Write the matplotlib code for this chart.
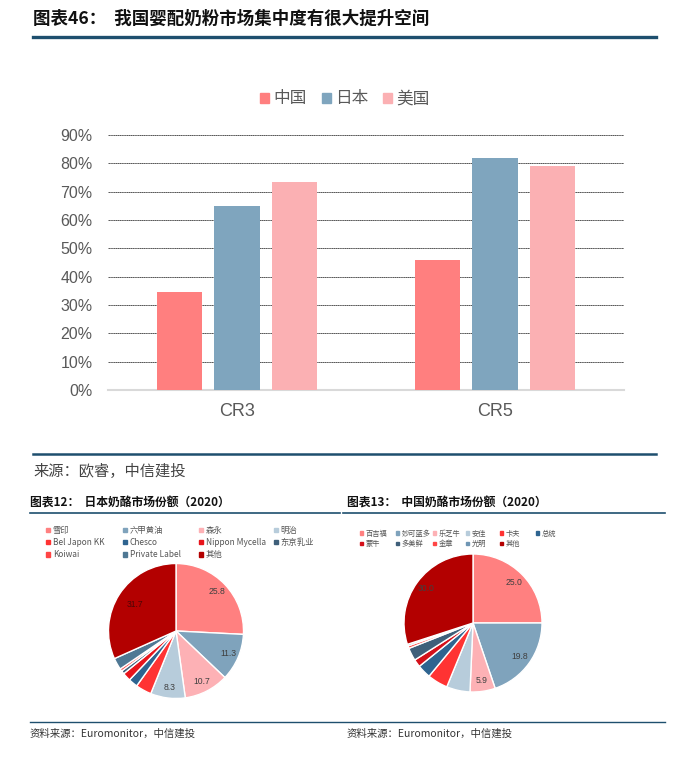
import math
import matplotlib
matplotlib.use('Agg')
import matplotlib.pyplot as plt
from matplotlib.lines import Line2D
from matplotlib.patches import Patch

plt.rcParams['font.family'] = ['Liberation Sans', 'Noto Sans CJK SC', 'DejaVu Sans']
CJK = ['Noto Sans CJK SC', 'DejaVu Sans']

W, H = 684, 760

# bar chart data
groups = ['CR3', 'CR5']
countries = ['中国', '日本', '美国']
china_cr = [0.345, 0.46]
japan_cr = [0.65, 0.82]
usa_cr = [0.735, 0.79]
bar_colors = ['#FF7F7F', '#7FA5BE', '#FBB0B3']
y_ticks = [0, 0.1, 0.2, 0.3, 0.4, 0.5, 0.6, 0.7, 0.8, 0.9]
y_labels = ['0%', '10%', '20%', '30%', '40%', '50%', '60%', '70%', '80%', '90%']

# japan cheese market share 2020
jp_brands = ['雪印', '六甲黄油', '森永', '明治', 'Bel Japon KK', 'Chesco',
             'Nippon Mycella', '东京乳业', 'Koiwai', 'Private Label', '其他']
jp_share = [25.8, 11.3, 10.7, 8.3, 3.8, 2.2, 2.0, 0.8, 0.6, 2.8, 31.7]
jp_colors = ['#FF8080', '#7FA3BC', '#FDB1B5', '#B7CCDB', '#FF3333', '#2E6490',
             '#E8141B', '#3F5F7A', '#FF4545', '#4F7894', '#B30000']

# china cheese market share 2020
cn_brands = ['百吉福', '妙可蓝多', '乐芝牛', '安佳', '卡夫', '总统',
             '蒙牛', '多美鲜', '金章', '光明', '其他']
cn_share = [25.0, 19.8, 5.9, 5.5, 4.8, 3.2, 1.8, 3.0, 0.6, 0.4, 30.0]
cn_colors = ['#FF8080', '#7FA3BC', '#FDB1B5', '#B7CCDB', '#FF3333', '#2E6490',
             '#D4101A', '#3F5F7A', '#FF4545', '#6F96B4', '#B30000']

line_color = '#1E4F6E'


def px_axes(x0, y0, x1, y1):
    return fig.add_axes([x0 / W, 1 - y1 / H, (x1 - x0) / W, (y1 - y0) / H])


def hline(x0, x1, y, lw):
    fig.add_artist(Line2D([x0 / W, x1 / W], [1 - y / H, 1 - y / H],
                          transform=fig.transFigure, color=line_color, lw=lw))


def ftext(x, y, s, **kw):
    fig.text(x / W, 1 - y / H, s, va='center', ha='left', **kw)


fig = plt.figure(figsize=(W / 100, H / 100), dpi=100)
fig.patch.set_facecolor('white')

# header
ftext(33, 19, '图表46：  我国婴配奶粉市场集中度有很大提升空间', fontsize=12.6,
      fontweight='bold', family=CJK, color='#111111')
hline(33, 656, 37, 2.4)

# bar chart
ax = px_axes(108, 135, 624, 390)
x = [0, 1]
offsets = [-0.222, 0, 0.222]
series = [china_cr, japan_cr, usa_cr]
for i, vals in enumerate(series):
    ax.bar([p + offsets[i] for p in x], vals, width=0.175, color=bar_colors[i],
           label=countries[i], zorder=3)
ax.set_xlim(-0.5, 1.5)
ax.set_ylim(0, 0.9)
ax.set_yticks(y_ticks)
ax.set_yticklabels(y_labels)
ax.set_xticks(x)
ax.set_xticklabels(groups)
for yv in y_ticks[1:]:
    ax.axhline(yv, color='#555555', lw=0.7, ls=(0, (1.5, 0.4)), zorder=1)
for s in ['top', 'right', 'left']:
    ax.spines[s].set_visible(False)
ax.spines['bottom'].set_color('#D9D9D9')
ax.spines['bottom'].set_linewidth(1.5)
ax.tick_params(axis='y', length=0, pad=11, labelsize=11.5, labelcolor='#595959')
ax.tick_params(axis='x', length=0, pad=9, labelsize=13, labelcolor='#595959')

handles = [Patch(color=c) for c in bar_colors]
fig.legend(handles, countries, loc='center', bbox_to_anchor=(345 / W, 1 - 99 / H),
           ncol=3, frameon=False, prop={'family': CJK, 'size': 12},
           labelcolor='#595959', handlelength=0.55, handleheight=0.55,
           handletextpad=0.25, columnspacing=0.9)

hline(33, 656, 454, 1.8)
ftext(33, 471, '来源：欧睿，中信建投', fontsize=11, family=CJK, color='#444444',
      style='italic')

# bottom panels
ftext(30, 503, '图表12：  日本奶酪市场份额（2020）', fontsize=8.5, fontweight='bold',
      family=CJK, color='#111111')
hline(30, 340, 513, 1.2)
ftext(347, 503, '图表13：  中国奶酪市场份额（2020）', fontsize=8.5, fontweight='bold',
      family=CJK, color='#111111')
hline(343, 665, 513, 1.2)


def draw_pie(cx, cy, r, shares, colors, min_label):
    a = px_axes(cx - r, cy - r, cx + r, cy + r)
    wedges, _ = a.pie(shares, colors=colors, startangle=90, counterclock=False,
                      radius=1, wedgeprops={'edgecolor': 'white', 'linewidth': 1.0})
    a.set_xlim(-1, 1)
    a.set_ylim(-1, 1)
    a.set_aspect('equal')
    a.axis('off')
    for w, v in zip(wedges, shares):
        if v < min_label:
            continue
        ang = math.radians((w.theta1 + w.theta2) / 2)
        dist = 0.72 if v > 30 else 0.84
        a.text(dist * math.cos(ang), dist * math.sin(ang), f'{v:.1f}',
               ha='center', va='center', fontsize=6.2, zorder=5,
               color='#4a0606' if v > 30 else '#404040')
    return a


draw_pie(176, 631, 67.5, jp_share, jp_colors, 5.7)
draw_pie(473, 623, 69, cn_share, cn_colors, 5.7)


def grid_legend(labels, colors, ncol, col_x, top_y, size, spacing):
    # one legend per column so that columns sit at fixed positions like excel
    for c in range(ncol):
        hs = [Patch(color=k) for k in colors[c::ncol]]
        fig.legend(hs, labels[c::ncol], loc='upper left',
                   bbox_to_anchor=(col_x[c] / W, 1 - top_y / H),
                   frameon=False, prop={'family': CJK, 'size': size},
                   labelcolor='#555555', handlelength=0.45, handleheight=0.45,
                   handletextpad=0.35, labelspacing=spacing,
                   borderpad=0, borderaxespad=0)


grid_legend(jp_brands, jp_colors, 4, [46, 123, 199, 274], 526, 6, 0.38)
grid_legend(cn_brands, cn_colors, 6, [360, 396, 433, 466, 500, 536], 530, 5.2, 0.28)

hline(30, 665, 722, 1.0)
ftext(30, 734, '资料来源：Euromonitor，中信建投', fontsize=7.5, family=CJK,
      color='#333333', style='italic')
ftext(347, 734, '资料来源：Euromonitor，中信建投', fontsize=7.5, family=CJK,
      color='#333333', style='italic')

fig.savefig('out.png', dpi=100, facecolor='white')
